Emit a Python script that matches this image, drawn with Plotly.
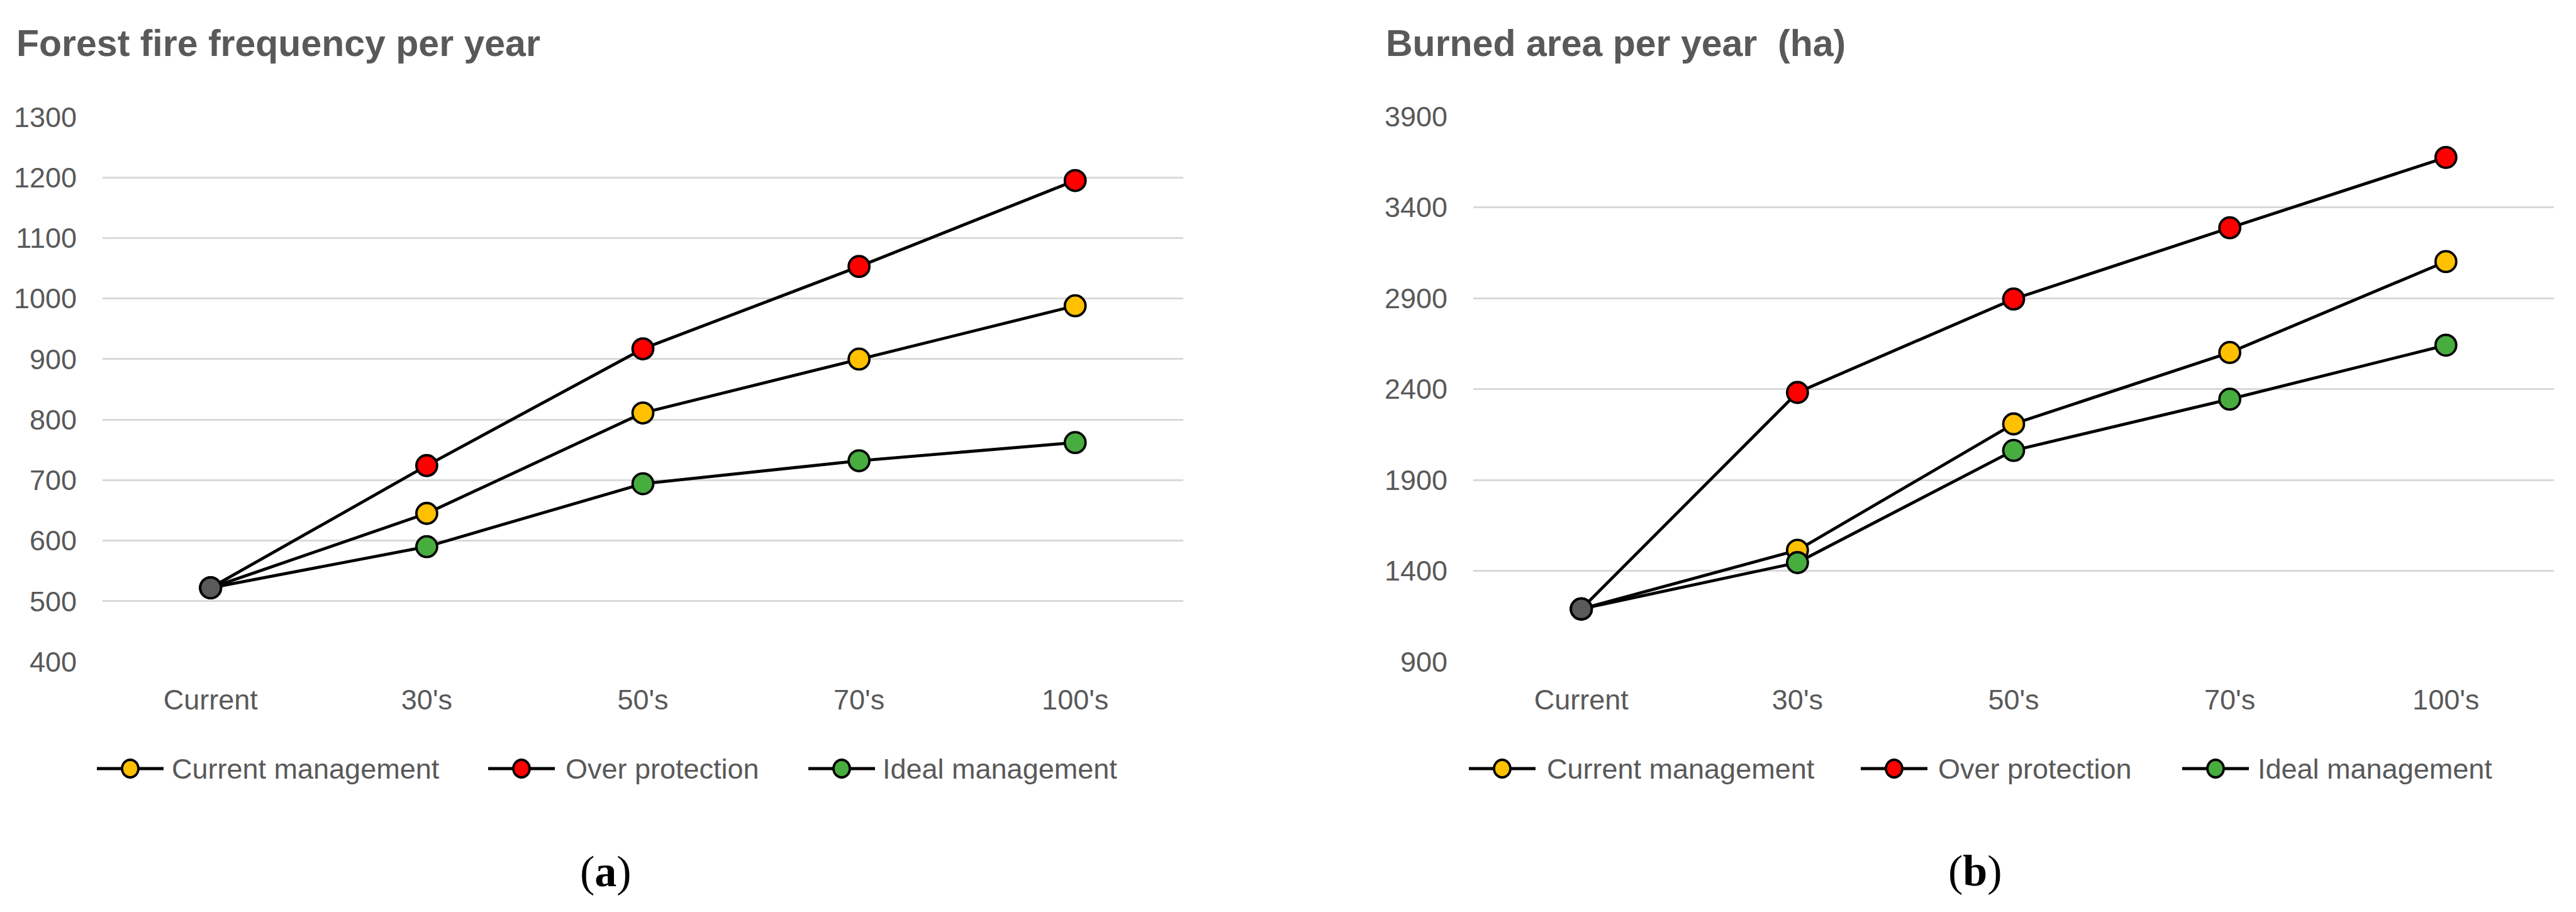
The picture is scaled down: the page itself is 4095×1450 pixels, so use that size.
import plotly.graph_objects as go

categories = ["Current", "30's", "50's", "70's", "100's"]
series_names = ["Current management", "Over protection", "Ideal management"]
series_colors = ["#FFC000", "#FF0000", "#47AD3F"]

# (a) Forest fire frequency per year
freq_current_mgmt = [522, 645, 811, 900, 988]
freq_over_protection = [522, 724, 917, 1053, 1195]
freq_ideal_mgmt = [522, 590, 694, 732, 762]

# (b) Burned area per year (ha)
area_current_mgmt = [1190, 1513, 2208, 2601, 3101]
area_over_protection = [1190, 2381, 2895, 3287, 3674]
area_ideal_mgmt = [1190, 1445, 2062, 2344, 2641]

y_ticks_a = [400, 500, 600, 700, 800, 900, 1000, 1100, 1200, 1300]
y_ticks_b = [900, 1400, 1900, 2400, 2900, 3400, 3900]

W, H = 4095, 1450
OFF = 8  # page body margin compensation
FONT = "Liberation Sans, Arial, sans-serif"
SERIF = "Liberation Serif, Times New Roman, serif"
GRAY = "#595959"
START_COLOR = "#5a5a5a"
LINE_W = 4.8

fig = go.Figure()

panels = [
    ("x", "y", [freq_current_mgmt, freq_over_protection, freq_ideal_mgmt]),
    ("x2", "y2", [area_current_mgmt, area_over_protection, area_ideal_mgmt]),
]

for xa, ya, data in panels:
    for name, color, vals in zip(series_names, series_colors, data):
        fig.add_trace(go.Scatter(
            x=categories, y=vals, name=name, mode="lines+markers",
            xaxis=xa, yaxis=ya, showlegend=False,
            line=dict(color="black", width=LINE_W),
            marker=dict(size=33, color=color, line=dict(color="black", width=3.8)),
        ))
    # common starting point shown in dark grey
    fig.add_trace(go.Scatter(
        x=categories[:1], y=[data[0][0]], mode="markers", showlegend=False,
        xaxis=xa, yaxis=ya, name="Current",
        marker=dict(size=33, color=START_COLOR, line=dict(color="black", width=3.8)),
    ))

def px_x(p):
    return (p - OFF) / W

def px_y(p):
    return 1 - (p - OFF) / H

axis_font = dict(family=FONT, size=45, color=GRAY)

xcommon = dict(type="category", categoryorder="array", categoryarray=categories,
               range=[-0.5, 4.5], showgrid=False, showline=False, zeroline=False,
               ticks="", tickfont=axis_font, ticklabelstandoff=30, automargin=False)
ycommon = dict(showgrid=True, gridcolor="#D9D9D9", gridwidth=3, zeroline=False,
               showline=False, ticks="", tickfont=axis_font, ticklabelstandoff=40,
               automargin=False)

# legend drawn as keys (line + circle) and text, one row under each panel
legend_rows = [
    ([207, 829, 1338], [271, 897, 1401]),
    ([2388, 3011, 3522], [2457, 3079, 3587]),
]
LEG_Y = 1222
shapes = []
annotations = []
for key_xs, text_xs in legend_rows:
    for name, color, kx, tx in zip(series_names, series_colors, key_xs, text_xs):
        shapes.append(dict(type="line", xref="paper", yref="paper",
                           x0=px_x(kx - 53), x1=px_x(kx + 53), y0=px_y(LEG_Y), y1=px_y(LEG_Y),
                           line=dict(color="black", width=LINE_W)))
        shapes.append(dict(type="circle", xref="paper", yref="paper",
                           x0=px_x(kx - 13), x1=px_x(kx + 13),
                           y0=px_y(LEG_Y + 14), y1=px_y(LEG_Y - 14),
                           fillcolor=color, line=dict(color="black", width=3.8)))
        annotations.append(dict(text=name, xref="paper", yref="paper",
                                x=px_x(tx), y=px_y(LEG_Y), xanchor="left", yanchor="middle",
                                showarrow=False, font=dict(family=FONT, size=45, color=GRAY)))

annotations += [
    dict(text="<b>Forest fire frequency per year</b>", xref="paper", yref="paper",
         x=px_x(24), y=px_y(69), xanchor="left", yanchor="middle", showarrow=False,
         font=dict(family=FONT, size=59, color=GRAY)),
    dict(text="<b>Burned area per year  (ha)</b>", xref="paper", yref="paper",
         x=px_x(2201), y=px_y(69), xanchor="left", yanchor="middle", showarrow=False,
         font=dict(family=FONT, size=59, color=GRAY)),
    dict(text="(<b>a</b>)", xref="paper", yref="paper",
         x=px_x(963), y=px_y(1385), xanchor="center", yanchor="middle", showarrow=False,
         font=dict(family=SERIF, size=70, color="black")),
    dict(text="(<b>b</b>)", xref="paper", yref="paper",
         x=px_x(3140), y=px_y(1384), xanchor="center", yanchor="middle", showarrow=False,
         font=dict(family=SERIF, size=70, color="black")),
]

fig.update_layout(
    width=W, height=H, autosize=False,
    margin=dict(l=0, r=0, t=0, b=0, pad=0, autoexpand=False),
    paper_bgcolor="white", plot_bgcolor="white",
    font=dict(family=FONT, color=GRAY),
    showlegend=False,
    xaxis=dict(domain=[px_x(163), px_x(1881)], anchor="y", **xcommon),
    yaxis=dict(domain=[px_y(1052), px_y(186)], anchor="x", range=[400, 1300],
               tickvals=y_ticks_a, **ycommon),
    xaxis2=dict(domain=[px_x(2342), px_x(4060)], anchor="y2", **xcommon),
    yaxis2=dict(domain=[px_y(1052), px_y(185)], anchor="x2", range=[900, 3900],
                tickvals=y_ticks_b, **ycommon),
    shapes=shapes,
    annotations=annotations,
)

fig.write_html("out.html")
